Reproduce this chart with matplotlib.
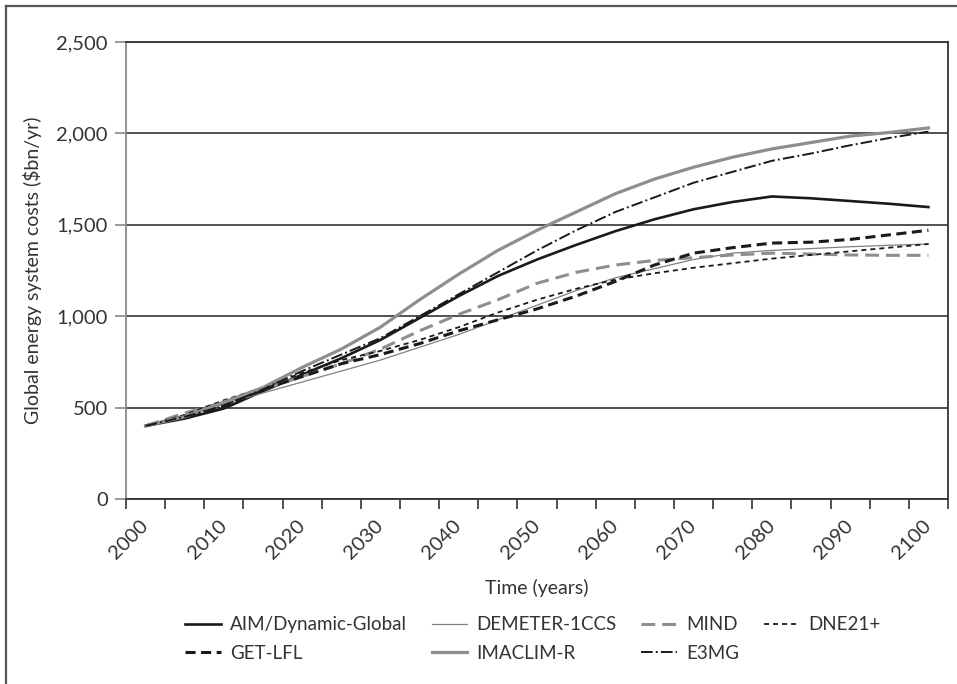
import numpy as np
import matplotlib
matplotlib.use("Agg")
import matplotlib.pyplot as plt
from matplotlib.lines import Line2D
from matplotlib.ticker import FuncFormatter, MultipleLocator

plt.rcParams["font.family"] = ["Lato", "DejaVu Sans"]

# Model results, every 5 years from 2000 to 2100 ($bn/yr)
years = np.arange(2000, 2101, 5)

aim = [400, 440, 495, 590, 680, 770, 870, 990, 1110, 1220, 1310,
       1390, 1465, 1530, 1585, 1625, 1655, 1645, 1630, 1615, 1597]
demeter = [400, 460, 520, 580, 640, 700, 760, 830, 900, 980, 1060,
           1140, 1210, 1260, 1310, 1345, 1360, 1370, 1380, 1388, 1395]
mind = [400, 470, 530, 600, 670, 740, 820, 920, 1010, 1090, 1180,
        1240, 1280, 1305, 1320, 1335, 1345, 1340, 1335, 1333, 1333]
dne21 = [400, 460, 540, 610, 690, 760, 810, 870, 940, 1020, 1090,
         1150, 1200, 1235, 1265, 1290, 1315, 1335, 1355, 1375, 1395]
get_lfl = [400, 450, 510, 600, 670, 740, 790, 850, 920, 980, 1040,
           1110, 1190, 1280, 1345, 1375, 1400, 1405, 1420, 1445, 1470]
imaclim = [400, 450, 530, 610, 720, 820, 940, 1090, 1230, 1360, 1470,
           1570, 1670, 1750, 1815, 1870, 1915, 1950, 1985, 2005, 2030]
e3mg = [400, 450, 510, 600, 700, 790, 880, 1000, 1120, 1240, 1360,
        1470, 1570, 1650, 1730, 1790, 1850, 1890, 1935, 1975, 2010]

black = "#1a1a1a"
grey = "#8e8e8e"
text_col = "#333333"

fig = plt.figure(figsize=(9.57, 6.84), dpi=100)
ax = fig.add_axes([126 / 957, 1 - 499 / 684, 822 / 957, 457 / 684])

l_aim, = ax.plot(years, aim, color=black, lw=1.9, label="AIM/Dynamic-Global")
l_dem, = ax.plot(years, demeter, color="#808080", lw=0.9, label="DEMETER-1CCS")
l_mind, = ax.plot(years, mind, color=grey, lw=2.2, dashes=(4.5, 2.3), label="MIND")
l_dne, = ax.plot(years, dne21, color=black, lw=1.3, dashes=(2.8, 2.2), label="DNE21+")
l_get, = ax.plot(years, get_lfl, color=black, lw=2.2, dashes=(3.3, 1.8), label="GET-LFL")
l_ima, = ax.plot(years, imaclim, color=grey, lw=2.3, label="IMACLIM-R")
l_e3, = ax.plot(years, e3mg, color=black, lw=1.4, dashes=(6, 1.6, 1, 1.6), label="E3MG")

ax.set_xlim(1997.5, 2102.5)
ax.set_ylim(0, 2500)

# horizontal gridlines
ax.yaxis.set_major_locator(MultipleLocator(500))
ax.grid(axis="y", color="#333333", lw=1.2)
ax.set_axisbelow(True)
ax.yaxis.set_major_formatter(FuncFormatter(lambda v, p: f"{v:,.0f}"))

# category-style x axis: labels at centres, ticks between categories
ax.set_xticks(np.arange(2000, 2101, 10))
ax.set_xticks(np.arange(1997.5, 2103, 5), minor=True)
ax.tick_params(axis="x", which="major", length=0, pad=17, labelsize=14.5,
               labelcolor=text_col)
ax.tick_params(axis="x", which="minor", length=7.5, width=1.2, color="#333333")
ax.tick_params(axis="y", length=8, width=1.2, color="#888888", pad=5,
               labelsize=14.5, labelcolor=text_col)
plt.setp(ax.get_xticklabels(), rotation=45, ha="right", va="center",
         rotation_mode="anchor")

for side in ["top", "right", "bottom"]:
    ax.spines[side].set_color("#333333")
    ax.spines[side].set_linewidth(1.3)
ax.spines["left"].set_color("#888888")
ax.spines["left"].set_linewidth(1.3)

ax.set_xlabel("Time (years)", fontsize=14, color=text_col)
ax.xaxis.set_label_coords(0.5, -0.175)
ax.set_ylabel("Global energy system costs ($bn/yr)", fontsize=14, color=text_col)
ax.yaxis.set_label_coords(-0.102, 0.5)

handles = [l_aim, l_get, l_dem, l_ima, l_mind, l_e3, l_dne]
fig.legend(handles=handles, loc="center", bbox_to_anchor=(533 / 957, 1 - 639 / 684),
           ncol=4, frameon=False, fontsize=13.5, handlelength=1.9,
           handletextpad=0.5, columnspacing=1.3, labelspacing=0.6,
           labelcolor=text_col)

# outer frame around the figure
fig.add_artist(Line2D([6 / 957, 6 / 957], [0, 1 - 6 / 684], transform=fig.transFigure,
                      color="#555555", lw=1.6))
fig.add_artist(Line2D([6 / 957, 1], [1 - 6 / 684, 1 - 6 / 684], transform=fig.transFigure,
                      color="#555555", lw=1.6))

fig.savefig("out.png", dpi=100)
